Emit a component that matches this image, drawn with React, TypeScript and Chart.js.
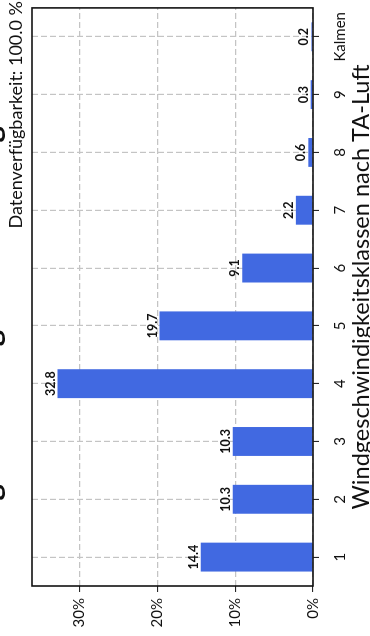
import React, { useEffect, useRef } from 'react';
import { Chart, registerables } from 'chart.js';

Chart.register(...registerables);

const categories = ['1', '2', '3', '4', '5', '6', '7', '8', '9', 'Kalmen'];
const frequencies = [14.4, 10.3, 10.3, 32.8, 19.7, 9.1, 2.2, 0.6, 0.3, 0.2];
const valueTicks = [0, 10, 20, 30];
const valueMax = 36.08;
const titleText = 'Windgeschwindigkeitsverteilung';
const subtitleText = 'Datenverfügbarkeit: 100.0 %';
const xAxisTitle = 'Windgeschwindigkeitsklassen nach TA-Luft';

const FONT = 'Lato, "Noto Sans", sans-serif';
const W = 636;
const H = 370;

export default function App() {
  const ref = useRef<HTMLCanvasElement>(null);

  useEffect(() => {
    const canvas = ref.current;
    if (!canvas) return;

    const decor = {
      id: 'decor',
      afterDatasetsDraw(chart: any) {
        const ctx = chart.ctx;
        const meta = chart.getDatasetMeta(0);
        ctx.save();
        ctx.fillStyle = '#111';
        ctx.font = `bold 12.5px ${FONT}`;
        ctx.textAlign = 'center';
        ctx.textBaseline = 'alphabetic';
        meta.data.forEach((el: any, i: number) => {
          ctx.fillText(frequencies[i].toFixed(1), el.x, el.y - 3);
        });
        ctx.restore();
      },
      afterDraw(chart: any) {
        const { ctx, chartArea: a } = chart;
        ctx.save();
        ctx.strokeStyle = '#111';
        ctx.lineWidth = 1.6;
        ctx.strokeRect(a.left, a.top, a.right - a.left, a.bottom - a.top);

        ctx.fillStyle = '#111';
        ctx.textBaseline = 'alphabetic';
        ctx.font = `bold 31px ${FONT}`;
        ctx.textAlign = 'center';
        ctx.fillText(titleText, 285, 0);

        ctx.font = `18px ${FONT}`;
        ctx.textAlign = 'right';
        ctx.fillText(subtitleText, 635, 22);

        ctx.font = `23.5px ${FONT}`;
        ctx.textAlign = 'center';
        ctx.fillText(xAxisTitle, (a.left + a.right) / 2 + 10, 369);
        ctx.restore();
      },
    };

    const chart = new Chart(canvas, {
      type: 'bar',
      data: {
        labels: categories,
        datasets: [
          {
            data: frequencies,
            backgroundColor: '#4169E1',
            borderWidth: 0,
            categoryPercentage: 1,
            barPercentage: 0.5,
          },
        ],
      },
      options: {
        animation: false,
        responsive: false,
        devicePixelRatio: 1,
        layout: { padding: { top: 32, right: 1, left: 0, bottom: 0 } },
        plugins: {
          legend: { display: false },
          title: { display: false },
          tooltip: { enabled: false },
        },
        scales: {
          x: {
            offset: true,
            grid: {
              offset: false,
              color: '#c4c4c4',
              lineWidth: 1.2,
              tickColor: '#111',
              tickLength: 6,
              tickWidth: 1,
            },
            border: { display: false, dash: [6, 3] },
            ticks: {
              color: '#111',
              font: { family: FONT, size: 15 },
              padding: 12,
              autoSkip: false,
              maxRotation: 0,
              minRotation: 0,
            },
            afterFit(scale: any) {
              scale.height = 57;
            },
          },
          y: {
            min: 0,
            max: valueMax,
            grid: {
              color: '#c4c4c4',
              lineWidth: 1.2,
              tickColor: '#111',
              tickLength: 6,
              tickWidth: 1,
            },
            border: { display: false, dash: [6, 3] },
            ticks: {
              color: '#111',
              font: { family: FONT, size: 15 },
              padding: 6,
              callback: (v: any) => `${v}%`,
            },
            afterBuildTicks(scale: any) {
              scale.ticks = valueTicks.map((v) => ({ value: v }));
            },
            afterFit(scale: any) {
              scale.width = 50;
            },
          },
        },
      },
      plugins: [decor],
    });

    return () => chart.destroy();
  }, []);

  return (
    <div
      style={{
        position: 'fixed',
        left: 0,
        top: 0,
        width: W,
        height: H,
        transformOrigin: '0 0',
        transform: `translateY(${W}px) rotate(-90deg)`,
        background: '#fff',
      }}
    >
      <canvas ref={ref} width={W} height={H} style={{ display: 'block', width: W, height: H }} />
    </div>
  );
}
